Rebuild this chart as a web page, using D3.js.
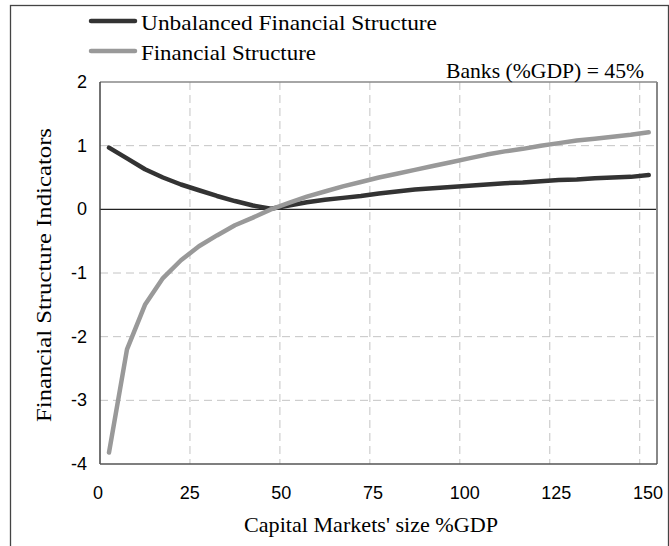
<!DOCTYPE html>
<html>
<head>
<meta charset="utf-8">
<script src="https://cdn.jsdelivr.net/npm/d3@7"></script>
<style>
  body { margin: 0; background: #fff; }
  .serif { font-family: "Liberation Serif", "Times New Roman", serif; fill: #000; }
  .sans { font-family: "Liberation Sans", Arial, sans-serif; fill: #000; }
</style>
</head>
<body>
<svg id="chart" width="669" height="546"></svg>
<script>
// capital markets size (% GDP)
const marketSize = [2.5, 7.5, 12.5, 17.5, 22.5, 27.5, 32.5, 37.5, 42.5, 47.5,
    52.5, 57.5, 62.5, 67.5, 72.5, 77.5, 82.5, 87.5, 92.5, 97.5,
    102.5, 107.5, 112.5, 117.5, 122.5, 127.5, 132.5, 137.5, 142.5, 147.5, 152.5];

const unbalanced = [0.97, 0.80, 0.63, 0.50, 0.39, 0.30, 0.21, 0.13, 0.06, 0.01,
    0.06, 0.11, 0.15, 0.18, 0.21, 0.25, 0.28, 0.31, 0.33, 0.35,
    0.37, 0.39, 0.41, 0.42, 0.44, 0.46, 0.47, 0.49, 0.50, 0.51, 0.54];

const structure = [-3.82, -2.20, -1.50, -1.08, -0.80, -0.58, -0.41, -0.25, -0.13, 0.00,
    0.10, 0.20, 0.28, 0.36, 0.43, 0.50, 0.56, 0.62, 0.68, 0.74,
    0.80, 0.86, 0.91, 0.95, 1.00, 1.04, 1.08, 1.11, 1.14, 1.17, 1.21];

const xTicks = [0, 25, 50, 75, 100, 125, 150];
const yTicks = [-4, -3, -2, -1, 0, 1, 2];

const seriesNames = ['Unbalanced Financial Structure', 'Financial Structure'];
const seriesColors = ['#333333', '#999999'];

const svg = d3.select('#chart');
const plot = {left: 100, right: 657, top: 82, bottom: 464};

const x = d3.scaleLinear().domain([0, 154.8]).range([plot.left, plot.right]);
// tick labels sit slightly off the gridlines in the original
const xLab = d3.scaleLinear().domain([0, 150]).range([98, 648]);
const y = d3.scaleLinear().domain([-4, 2]).range([plot.bottom, plot.top]);

// outer frame
svg.append('rect')
    .attr('x', 10.5).attr('y', 5.5)
    .attr('width', 658).attr('height', 560)
    .attr('fill', 'none').attr('stroke', '#444').attr('stroke-width', 1.3);

// gridlines
const grid = svg.append('g');
grid.selectAll('.vgrid')
    .data(xTicks.filter(d => d > 0))
    .enter().append('line')
    .attr('x1', d => x(d)).attr('x2', d => x(d))
    .attr('y1', plot.top).attr('y2', plot.bottom)
    .attr('stroke', '#c4c4c4').attr('stroke-dasharray', '8,5');
grid.selectAll('.hgrid')
    .data(yTicks.filter(d => d !== 0 && d !== -4 && d !== 2))
    .enter().append('line')
    .attr('x1', plot.left).attr('x2', plot.right)
    .attr('y1', d => y(d)).attr('y2', d => y(d))
    .attr('stroke', '#c4c4c4').attr('stroke-dasharray', '8,5');

// zero line
svg.append('line')
    .attr('x1', plot.left).attr('x2', plot.right)
    .attr('y1', y(0)).attr('y2', y(0))
    .attr('stroke', '#222').attr('stroke-width', 1.2);

// plot frame
svg.append('line').attr('x1', plot.left).attr('x2', plot.right).attr('y1', plot.top).attr('y2', plot.top)
    .attr('stroke', '#888').attr('stroke-width', 1.5);
svg.append('line').attr('x1', plot.right).attr('x2', plot.right).attr('y1', plot.top).attr('y2', plot.bottom)
    .attr('stroke', '#888').attr('stroke-width', 2);
svg.append('line').attr('x1', plot.left).attr('x2', plot.left).attr('y1', plot.top).attr('y2', plot.bottom)
    .attr('stroke', '#444').attr('stroke-width', 1.5);
svg.append('line').attr('x1', plot.left).attr('x2', plot.right).attr('y1', plot.bottom).attr('y2', plot.bottom)
    .attr('stroke', '#555').attr('stroke-width', 1.5);

// series
const line = d3.line()
    .x((d, i) => x(marketSize[i]))
    .y(d => y(d));

[unbalanced, structure].forEach((vals, k) => {
    svg.append('path')
        .datum(vals)
        .attr('d', line)
        .attr('fill', 'none')
        .attr('stroke', seriesColors[k])
        .attr('stroke-width', 4.5)
        .attr('stroke-linecap', 'round')
        .attr('stroke-linejoin', 'round');
});

// tick labels
svg.selectAll('.xlab')
    .data(xTicks)
    .enter().append('text')
    .attr('class', 'sans')
    .attr('x', d => xLab(d))
    .attr('y', 499)
    .attr('text-anchor', 'middle')
    .attr('font-size', 18)
    .text(d => d);

svg.selectAll('.ylab')
    .data(yTicks)
    .enter().append('text')
    .attr('class', 'sans')
    .attr('x', 87)
    .attr('y', d => y(d) + 6)
    .attr('text-anchor', 'end')
    .attr('font-size', 18)
    .text(d => d);

// axis titles
svg.append('text')
    .attr('class', 'serif')
    .attr('x', 371).attr('y', 532)
    .attr('text-anchor', 'middle')
    .attr('font-size', 21)
    .attr('textLength', 254).attr('lengthAdjust', 'spacingAndGlyphs')
    .text("Capital Markets' size %GDP");

svg.append('text')
    .attr('class', 'serif')
    .attr('transform', 'translate(51,275) rotate(-90)')
    .attr('text-anchor', 'middle')
    .attr('font-size', 21)
    .attr('textLength', 294).attr('lengthAdjust', 'spacingAndGlyphs')
    .text('Financial Structure Indicators');

// annotation
svg.append('text')
    .attr('class', 'serif')
    .attr('x', 446).attr('y', 78)
    .attr('font-size', 21)
    .attr('textLength', 198).attr('lengthAdjust', 'spacingAndGlyphs')
    .text('Banks (%GDP) = 45%');

// legend
const legendY = [21, 51];
const legendW = [296, 175];
const legend = svg.selectAll('.legend')
    .data(seriesNames)
    .enter().append('g');
legend.append('line')
    .attr('x1', 91).attr('x2', 135)
    .attr('y1', (d, i) => legendY[i]).attr('y2', (d, i) => legendY[i])
    .attr('stroke', (d, i) => seriesColors[i])
    .attr('stroke-width', 4.5)
    .attr('stroke-linecap', 'round');
legend.append('text')
    .attr('class', 'serif')
    .attr('x', 141)
    .attr('y', (d, i) => legendY[i] + 8.5)
    .attr('font-size', 21)
    .attr('textLength', (d, i) => legendW[i]).attr('lengthAdjust', 'spacingAndGlyphs')
    .text(d => d);
</script>
</body>
</html>
